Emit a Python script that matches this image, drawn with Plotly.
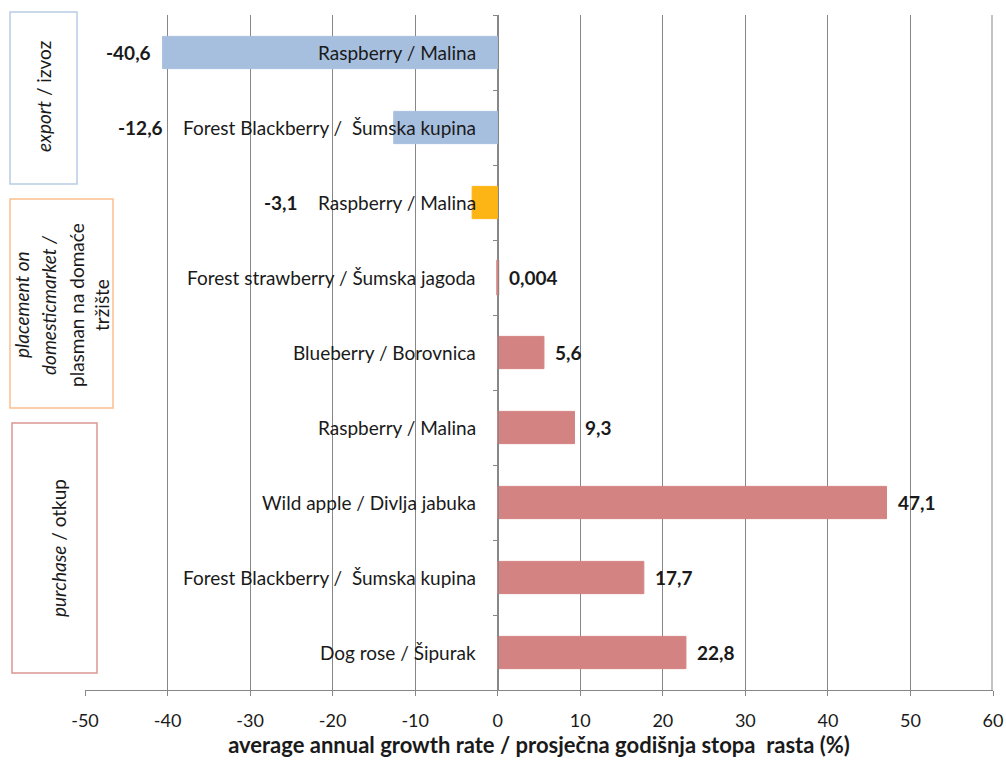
import plotly.graph_objects as go

# ---- data ----
categories = [
    "Raspberry / Malina",
    "Forest Blackberry /  Šumska kupina",
    "Raspberry / Malina",
    "Forest strawberry / Šumska jagoda",
    "Blueberry / Borovnica",
    "Raspberry / Malina",
    "Wild apple / Divlja jabuka",
    "Forest Blackberry /  Šumska kupina",
    "Dog rose / Šipurak",
]
values = [-40.6, -12.6, -3.1, 0.004, 5.6, 9.3, 47.1, 17.7, 22.8]
value_labels = ["-40,6", "-12,6", "-3,1", "0,004", "5,6", "9,3", "47,1", "17,7", "22,8"]
x_ticks = [-50, -40, -30, -20, -10, 0, 10, 20, 30, 40, 50, 60]

# ---- styles ----
bar_colors = ["#A7BFDE", "#A7BFDE", "#FDB515", "#D48383", "#D48383",
              "#D48383", "#D48383", "#D48383", "#D48383"]
bar_line_w = [1, 1, 1, 3, 1, 1, 1, 1, 1]
# manual label placement (right edge, in axis units) for the negative labels
neg_label_right = {0: -41.8, 1: -40.3, 2: -23.9}

FONT = "Lato"
TXT = "#1a1a1a"
GRID = "#878787"

W, H = 1006, 760
L, R, T, B = 85, 13, 15, 70
PW, PH = W - L - R, H - T - B


def px(xp):
    return (xp - L) / PW


def py(yp):
    return (H - B - yp) / PH


idx = list(range(len(categories)))

fig = go.Figure()
fig.add_trace(go.Bar(
    x=values, y=idx, orientation="h", width=0.43,
    marker=dict(color=bar_colors, line=dict(color=bar_colors, width=bar_line_w)),
    hoverinfo="skip", showlegend=False,
))

annotations = []
for i, (c, v, lab) in enumerate(zip(categories, values, value_labels)):
    annotations.append(dict(
        x=0, y=i, xref="x", yref="y", text=c, showarrow=False,
        xanchor="right", xshift=-20, font=dict(family=FONT, size=19, color=TXT)))
    if v < 0:
        annotations.append(dict(
            x=neg_label_right[i], y=i, xref="x", yref="y", text=f"<b>{lab}</b>",
            showarrow=False, xanchor="right",
            font=dict(family=FONT, size=19, color=TXT)))
    else:
        annotations.append(dict(
            x=v, y=i, xref="x", yref="y", text=f"<b>{lab}</b>",
            showarrow=False, xanchor="left", xshift=9,
            font=dict(family=FONT, size=19, color=TXT)))

# group boxes
boxes = [
    (10, 77, 12, 184, "#B8CCE4"),
    (10, 113, 199, 408, "#FAC08F"),
    (12, 97, 423, 673, "#DA9694"),
]
edge = 1 - 1.0 / PW  # last gridline, nudged inside the clip region
shapes = [
    dict(type="line", xref="paper", yref="paper", x0=edge, x1=edge,
         y0=0, y1=1, line=dict(color=GRID, width=1), layer="above"),
]
for x0, x1, y0, y1, col in boxes:
    shapes.append(dict(type="rect", xref="paper", yref="paper",
                       x0=px(x0), x1=px(x1), y0=py(y1), y1=py(y0),
                       line=dict(color=col, width=1.5), fillcolor="white",
                       layer="above"))

box_texts = [
    (43, 97, "<i>export</i> / izvoz"),
    (22, 305, "<i>placement on</i>"),
    (49, 305, "<i>domesticmarket /</i>"),
    (77, 305, "plasman na domaće"),
    (102, 305, "tržište"),
    (58, 548, "<i>purchase</i> / otkup"),
]
for xp, yp, t in box_texts:
    annotations.append(dict(
        x=px(xp), y=py(yp), xref="paper", yref="paper", text=t,
        showarrow=False, textangle=-90, xanchor="center", yanchor="middle",
        font=dict(family=FONT, size=19, color=TXT)))

fig.update_layout(
    width=W, height=H,
    margin=dict(l=L, r=R, t=T, b=B, autoexpand=False),
    paper_bgcolor="white", plot_bgcolor="white",
    shapes=shapes, annotations=annotations,
    xaxis=dict(
        range=[-50, 60], tickvals=x_ticks, ticktext=[str(t) for t in x_ticks],
        automargin=False,
        showgrid=True, gridcolor=GRID, gridwidth=1, zeroline=False,
        showline=True, linecolor=GRID, linewidth=1,
        ticks="outside", ticklen=5, tickcolor=GRID, ticklabelstandoff=9,
        tickfont=dict(family=FONT, size=18, color=TXT),
        title=dict(text="<b>average annual growth rate / prosječna godišnja stopa  rasta (%)</b>",
                   font=dict(family=FONT, size=22, color=TXT), standoff=8),
    ),
    yaxis=dict(
        range=[len(categories) - 0.5, -0.5], showgrid=False, zeroline=False,
        anchor="free", position=50 / 110, showline=True, linecolor=GRID, linewidth=1,
        ticks="outside", ticklen=5, tickcolor=GRID, automargin=False,
        tickvals=[i - 0.5 for i in range(len(categories) + 1)],
        showticklabels=False,
    ),
)

fig.write_html("out.html")
